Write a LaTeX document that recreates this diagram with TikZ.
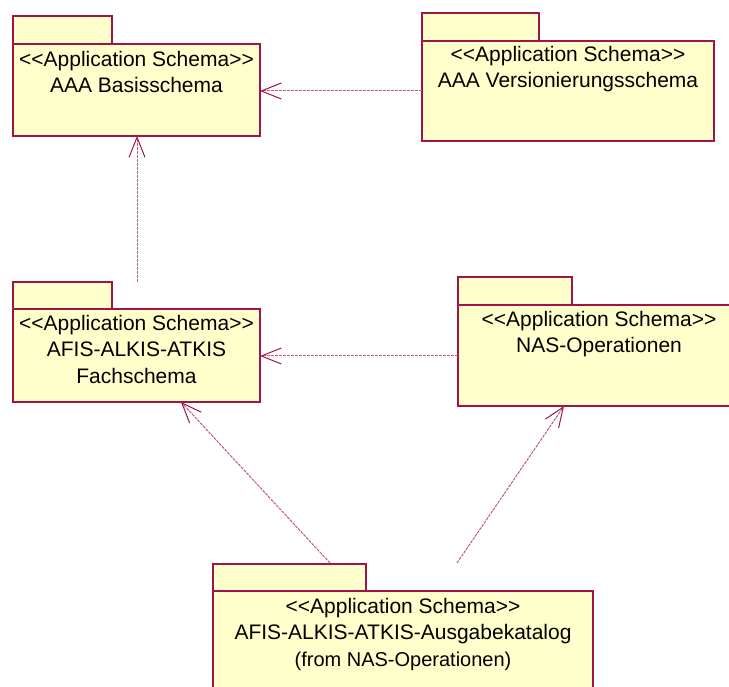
\documentclass[tikz,border=0pt]{standalone}
\usepackage{fontspec}
\setmainfont{Liberation Sans}
\usetikzlibrary{arrows.meta}
\definecolor{pkgline}{HTML}{A0144A}
\definecolor{pkgfill}{HTML}{FFFFCC}
\newcommand{\stereo}{<{}<Application Schema>{}>}
\tikzset{
  pkg/.style={draw=pkgline, fill=pkgfill, line width=1.2pt},
  lbl/.style={align=center, font=\fontsize{21}{26.5}\selectfont, inner sep=0pt},
  dep/.style={draw=pkgline!70, line width=1pt, dash pattern=on 3pt off 1pt,
    -{Straight Barb[length=20pt,width=16pt,line width=1pt,color=pkgline]}},
}
\begin{document}
\begin{tikzpicture}[x=1pt,y=-1pt]
\useasboundingbox (0,0) rectangle (729,687);
\begin{scope}
\clip (0,0) rectangle (729,687);
% Package 1
\draw[pkg] (13,16) rectangle (112,44);
\draw[pkg] (13,44) rectangle (260,136);
\coordinate (b1e) at (260,91);
\coordinate (b1s) at (137,136);
\node[lbl] (t1) at (136.5,72) {\stereo\\AAA Basisschema};
% Package 2
\draw[pkg] (422,13) rectangle (539,41);
\draw[pkg] (422,41) rectangle (714,141);
\coordinate (b2w) at (422,91);
\node[lbl] (t2) at (568,69) {\stereo\\AAA Versionierungsschema};
% Package 3
\draw[pkg] (13,282) rectangle (112,309);
\draw[pkg] (13,309) rectangle (260,402);
\coordinate (b3n) at (137,282);
\coordinate (b3e) at (260,356);
\coordinate (b3s) at (181,402);
\node[lbl] (t3) at (136.5,349) {\stereo\\AFIS-ALKIS-ATKIS\\Fachschema};
% Package 4
\draw[pkg] (458,277) rectangle (572,305);
\draw[pkg] (458,305) rectangle (742,406);
\coordinate (b4w) at (458,356);
\coordinate (b4s) at (564,406);
\node[lbl] (t4) at (599,334) {\stereo\\NAS-Operationen};
% Package 5
\draw[pkg] (213,564) rectangle (366,591);
\draw[pkg] (213,591) rectangle (593,700);
\coordinate (b5a) at (330,563);
\coordinate (b5b) at (457,563);
\node[lbl] (t5) at (403,634) {\stereo\\AFIS-ALKIS-ATKIS-Ausgabekatalog\\{\fontsize{20}{27}\selectfont (from NAS-Operationen)}};
% Dependencies
\draw[dep] (b2w) -- (b1e);
\draw[dep] (b3n) -- (b1s);
\draw[dep] (b4w) -- (b3e);
\draw[dep] (b5a) -- (b3s);
\draw[dep] (b5b) -- (b4s);
\end{scope}
\end{tikzpicture}
\end{document}
